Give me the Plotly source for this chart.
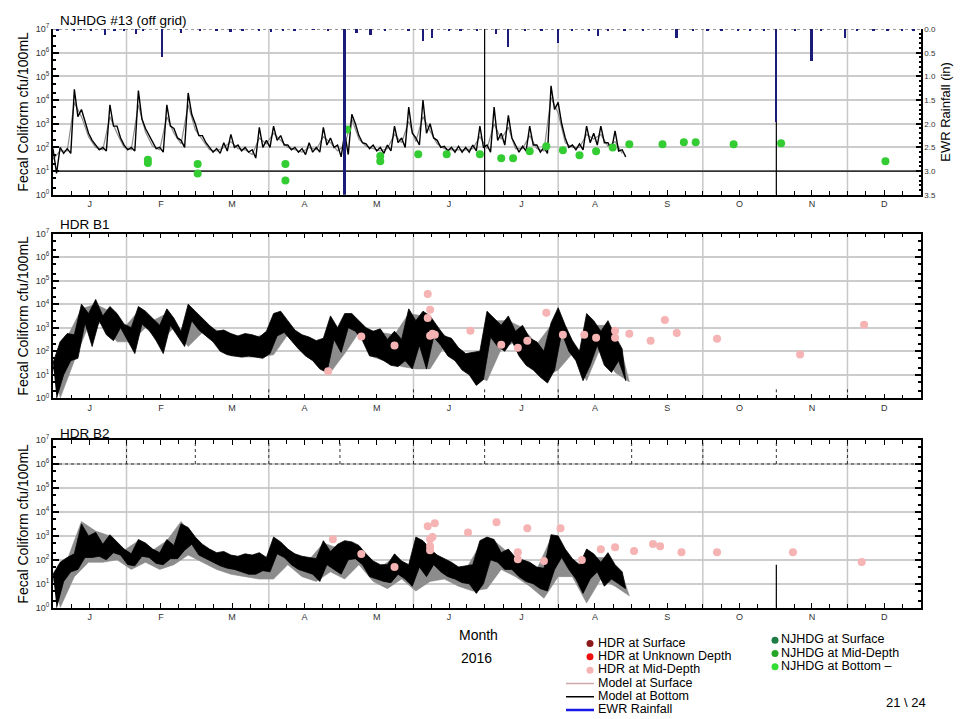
import pandas as pd
import plotly.graph_objects as go

START = pd.Timestamp("2016-01-01")
END = pd.Timestamp("2017-01-01")
FONT = "Liberation Sans, Arial, sans-serif"

month_letters = ["J", "F", "M", "A", "M", "J", "J", "A", "S", "O", "N", "D"]
decades = [0, 1, 2, 3, 4, 5, 6, 7]
panel_titles = ["NJHDG #13 (off grid)", "HDR B1", "HDR B2"]
y_title = "Fecal Coliform cfu/100mL"
rain_title = "EWR Rainfall (in)"
month_label = "Month"
year_label = "2016"
page_label = "21 \\ 24"

# model output, log10(cfu/100mL): high and low inside each 3 day window (Jan 1 - Aug 28)
model_step = 3
p1_bottom_hi = [1.95, 2.0, 1.95, 4.45, 3.6, 2.6, 2.1, 2.0, 3.8, 2.9,
                2.1, 2.0, 4.4, 2.8, 2.2, 2.0, 3.8, 2.8, 2.3, 4.3,
                3.0, 2.5, 2.0, 1.95, 2.2, 2.55, 2.1, 2.0, 1.9, 2.85,
                2.3, 2.9, 2.5, 2.1, 2.0, 1.95, 2.2, 2.0, 2.85, 2.4,
                2.1, 2.6, 3.4, 2.5, 2.15, 2.1, 2.0, 2.1, 2.9, 2.4,
                3.7, 2.4, 4.0, 3.0, 2.3, 2.05, 2.0, 2.05, 2.0, 2.1,
                2.9, 2.1, 3.7, 2.6, 3.35, 2.1, 2.05, 2.9, 2.1, 2.0,
                4.6, 3.9, 2.4, 2.1, 2.15, 2.9, 2.6, 2.9, 2.2, 2.7,
                1.9]
p1_bottom_lo = [0.9, 1.75, 1.75, 3.3, 3.1, 2.3, 1.9, 1.85, 2.9, 2.4,
                1.9, 1.85, 3.2, 2.5, 1.95, 1.8, 2.9, 2.4, 2.0, 3.4,
                2.5, 2.2, 1.8, 1.75, 1.85, 2.0, 1.85, 1.8, 1.55, 2.0,
                2.0, 2.3, 2.1, 1.9, 1.8, 1.7, 1.8, 1.8, 2.1, 2.0,
                1.6, 1.7, 3.0, 2.2, 1.95, 1.85, 1.75, 1.85, 2.2, 2.0,
                2.6, 2.1, 2.6, 2.4, 2.0, 1.85, 1.8, 1.8, 1.8, 1.85,
                2.0, 1.8, 2.3, 2.1, 2.4, 1.8, 1.85, 2.1, 1.8, 1.75,
                3.6, 3.0, 2.0, 1.9, 1.9, 2.2, 2.1, 2.2, 1.9, 1.85,
                1.6]
p1_surface = [1.5, 1.85, 1.85, 3.9, 3.3, 2.45, 2.0, 1.9, 3.3, 2.6,
              2.0, 1.9, 3.8, 2.65, 2.05, 1.9, 3.3, 2.6, 2.15, 3.8,
              2.75, 2.35, 1.9, 1.85, 2.0, 2.25, 1.95, 1.9, 1.7, 2.4,
              2.15, 2.6, 2.3, 2.0, 1.9, 1.8, 2.0, 1.9, 2.45, 2.2,
              1.85, 2.1, 3.2, 2.35, 2.05, 1.95, 1.85, 1.95, 2.55, 2.2,
              3.1, 2.25, 3.3, 2.7, 2.15, 1.95, 1.9, 1.9, 1.9, 1.95,
              2.45, 1.95, 3.0, 2.35, 2.85, 1.95, 1.95, 2.5, 1.95, 1.85,
              4.1, 3.45, 2.2, 2.0, 2.0, 2.55, 2.35, 2.55, 2.05, 2.25,
              1.75]
p2_bottom_hi = [1.5, 2.4, 2.75, 2.7, 4.0, 3.6, 4.2, 3.5, 3.9, 3.6,
                3.15, 3.0, 3.9, 3.7, 3.4, 3.1, 3.8, 3.4, 2.85, 4.0,
                3.7, 3.4, 3.1, 2.85, 2.9, 2.75, 2.65, 2.75, 2.7, 2.6,
                2.85, 3.6, 3.7, 3.3, 2.9, 2.7, 2.6, 2.45, 2.55, 3.5,
                3.0, 3.6, 3.6, 3.3, 3.0, 2.85, 2.95, 2.5, 2.85, 2.5,
                3.8, 3.3, 3.7, 3.5, 3.1, 2.65, 2.55, 2.15, 1.9, 1.95,
                2.0, 3.7, 3.4, 3.1, 3.5, 2.85, 3.1, 2.55, 2.4, 2.0,
                3.2, 3.85, 3.1, 2.45, 2.0, 3.6, 3.3, 2.85, 3.3, 2.65,
                2.1]
p2_bottom_lo = [0.0, 1.0, 1.6, 1.7, 3.2, 2.2, 3.3, 2.7, 2.45, 3.0,
                2.45, 1.9, 3.15, 2.9, 2.45, 1.9, 3.1, 2.65, 2.2, 3.3,
                2.9, 2.65, 2.4, 2.0, 1.85, 1.8, 1.75, 1.8, 1.75, 1.7,
                1.9, 2.65, 2.8, 2.45, 2.1, 1.8, 1.6, 1.25, 1.1, 2.5,
                1.95, 3.0, 2.85, 2.45, 1.8, 1.75, 1.6, 1.4, 1.35, 1.6,
                1.25, 2.25, 1.25, 2.6, 2.25, 1.8, 1.6, 1.2, 1.0, 0.55,
                0.8, 2.6, 2.2, 2.0, 2.45, 1.8, 1.4, 1.2, 0.9, 0.65,
                1.2, 2.8, 2.0, 1.6, 0.75, 1.4, 2.25, 1.4, 1.1, 1.6,
                0.75]
p3_bottom_hi = [1.4, 1.9, 2.1, 2.25, 3.5, 3.0, 3.15, 2.65, 3.05, 2.75,
                2.45, 2.25, 2.85, 2.7, 2.45, 2.3, 2.85, 2.6, 3.5, 3.35,
                2.95, 2.65, 2.45, 2.3, 2.35, 2.2, 2.15, 2.25, 2.2, 2.3,
                2.1, 2.95, 2.75, 2.45, 2.25, 2.15, 2.1, 2.05, 2.8, 2.35,
                2.65, 2.8, 2.75, 2.6, 2.25, 1.95, 1.8, 1.8, 2.25, 1.95,
                1.8, 2.95, 2.8, 2.45, 2.2, 2.05, 1.9, 1.7, 1.75, 1.8,
                2.8, 2.95, 2.85, 2.3, 2.45, 2.1, 2.0, 1.9, 1.7, 1.65,
                3.05, 3.0, 2.45, 2.05, 1.8, 2.45, 2.25, 1.9, 2.3, 1.8,
                1.5]
p3_bottom_lo = [0.0, 1.1, 1.5, 1.6, 2.1, 2.1, 2.15, 2.0, 2.3, 2.2,
                1.8, 1.75, 2.15, 2.1, 1.85, 1.8, 2.05, 2.05, 2.4, 2.65,
                2.2, 2.05, 1.9, 1.75, 1.65, 1.6, 1.5, 1.4, 1.4, 1.55,
                1.5, 2.25, 2.1, 1.8, 1.6, 1.5, 1.4, 1.1, 1.8, 1.6,
                1.4, 2.0, 2.05, 1.8, 1.3, 1.2, 1.1, 1.05, 1.4, 1.2,
                0.9, 1.7, 1.3, 1.8, 1.5, 1.3, 1.2, 1.05, 1.0, 0.6,
                1.0, 2.0, 1.9, 1.6, 1.6, 1.3, 1.1, 1.0, 0.8, 0.7,
                1.6, 2.1, 1.6, 1.2, 0.6, 1.2, 1.5, 0.9, 1.2, 1.0,
                0.8]

# model at surface, log10(cfu/100mL), high and low every 6 days
surface_step = 6
p2_surface_hi = [1.3, 2.6, 3.8, 4.0, 3.7, 3.0, 3.7, 3.3, 3.6, 2.7,
                 3.5, 3.0, 2.8, 2.5, 2.6, 2.7, 3.5, 2.8, 2.5, 2.4,
                 2.9, 3.4, 2.9, 2.8, 2.7, 3.6, 3.5, 3.0, 2.4, 1.8,
                 1.9, 3.3, 3.3, 3.0, 2.3, 3.1, 3.0, 1.9, 3.1, 3.1,
                 1.9]
p2_surface_lo = [0.0, 1.6, 3.1, 3.2, 2.4, 2.4, 3.0, 2.4, 3.0, 2.2,
                 2.8, 2.3, 1.8, 1.75, 1.75, 1.85, 2.7, 2.0, 1.55, 1.1,
                 1.9, 2.8, 1.75, 1.55, 1.35, 1.25, 1.25, 2.2, 1.55, 1.0,
                 0.75, 2.1, 2.4, 1.4, 0.9, 1.2, 1.9, 0.75, 2.2, 1.1,
                 0.7]
p3_surface_hi = [1.2, 2.0, 3.6, 3.2, 3.0, 2.4, 2.8, 2.4, 2.8, 3.6,
                 2.9, 2.3, 2.2, 2.0, 2.1, 2.0, 2.7, 2.2, 2.0, 2.7,
                 2.5, 2.7, 2.1, 1.7, 2.1, 1.7, 2.7, 2.1, 1.8, 1.6,
                 2.6, 2.8, 2.3, 1.9, 1.6, 2.9, 2.3, 1.7, 2.1, 2.1,
                 1.4]
p3_surface_lo = [0.0, 1.3, 1.9, 1.9, 2.0, 1.6, 1.9, 1.6, 1.8, 2.2,
                 1.9, 1.6, 1.4, 1.3, 1.2, 1.2, 1.8, 1.3, 1.1, 1.5,
                 1.2, 1.8, 1.1, 0.8, 1.2, 0.7, 1.1, 1.2, 0.9, 0.7,
                 0.8, 1.6, 1.3, 0.9, 0.4, 1.3, 1.3, 0.2, 1.2, 0.9,
                 0.5]

# samples, cfu/100mL
njhdg_dates = ["2016-02-10", "2016-02-10", "2016-03-02", "2016-03-02", "2016-04-08",
               "2016-04-08", "2016-05-04", "2016-05-18", "2016-05-18", "2016-06-03",
               "2016-06-15", "2016-06-29", "2016-07-08", "2016-07-13", "2016-07-20",
               "2016-07-27", "2016-08-03", "2016-08-10", "2016-08-17", "2016-08-24",
               "2016-08-31", "2016-09-14", "2016-09-23", "2016-09-28", "2016-10-14",
               "2016-11-03", "2016-12-17"]
njhdg_bottom = [30, 22, 20, 8, 20, 4, 575, 43, 26, 52, 52, 52, 35, 35, 69,
                112, 76, 47, 69, 100, 135, 135, 166, 166, 135, 151, 26]

hdr_b1_dates = ["2016-04-26", "2016-05-10", "2016-05-24", "2016-06-07", "2016-06-08",
                "2016-06-07", "2016-06-09", "2016-06-08", "2016-06-10", "2016-06-25",
                "2016-07-08", "2016-07-15", "2016-07-19", "2016-07-27", "2016-08-03",
                "2016-08-12", "2016-08-17", "2016-08-25", "2016-08-25", "2016-08-31",
                "2016-09-09", "2016-09-15", "2016-09-20", "2016-10-07", "2016-11-11",
                "2016-12-08"]
hdr_b1_mid = [14, 420, 175, 27000, 5750, 2600, 550, 460, 500, 740, 190, 140, 280,
              4300, 500, 500, 370, 740, 370, 550, 280, 2140, 600, 340, 72, 1320]

hdr_b2_dates = ["2016-04-28", "2016-05-10", "2016-05-24", "2016-06-07", "2016-06-10",
                "2016-06-08", "2016-06-09", "2016-06-08", "2016-06-08", "2016-06-24",
                "2016-07-06", "2016-07-15", "2016-07-15", "2016-07-19", "2016-07-26",
                "2016-08-02", "2016-08-11", "2016-08-19", "2016-08-25", "2016-09-02",
                "2016-09-10", "2016-09-13", "2016-09-22", "2016-10-07", "2016-11-08",
                "2016-12-07"]
hdr_b2_mid = [725, 175, 50, 2500, 3400, 725, 890, 370, 250, 1400, 3700, 210, 107,
              2100, 89, 2100, 98, 280, 340, 235, 460, 370, 210, 210, 210, 81]

# daily rainfall, inches
rain_dates = ["2016-01-03", "2016-01-10", "2016-01-13", "2016-01-17", "2016-01-23",
              "2016-01-27", "2016-01-31", "2016-02-05", "2016-02-08", "2016-02-16",
              "2016-02-24", "2016-03-03", "2016-03-10", "2016-03-16", "2016-03-21",
              "2016-03-28", "2016-04-02", "2016-04-07", "2016-04-12", "2016-04-20",
              "2016-04-26", "2016-05-03", "2016-05-08", "2016-05-14", "2016-05-20",
              "2016-05-30", "2016-06-05", "2016-06-09", "2016-06-16", "2016-06-21",
              "2016-06-28", "2016-07-06", "2016-07-11", "2016-07-18", "2016-07-25",
              "2016-08-01", "2016-08-07", "2016-08-14", "2016-08-18", "2016-08-22",
              "2016-08-29", "2016-09-06", "2016-09-13", "2016-09-20", "2016-09-27",
              "2016-10-03", "2016-10-09", "2016-10-16", "2016-10-21", "2016-10-27",
              "2016-11-01", "2016-11-09", "2016-11-16", "2016-11-20", "2016-11-30",
              "2016-12-05", "2016-12-12", "2016-12-18", "2016-12-24", "2016-12-29"]
rain_in = [0.03, 0.05, 0.02, 0.04, 0.12, 0.03, 0.05, 0.10, 0.04, 0.59,
           0.08, 0.04, 0.03, 0.06, 0.03, 0.04, 0.06, 0.03, 0.04, 0.02,
           0.05, 3.5, 0.08, 0.12, 0.03, 0.04, 0.25, 0.19, 0.03, 0.05,
           0.04, 0.10, 0.38, 0.03, 0.05, 0.29, 0.03, 0.04, 0.15, 0.03,
           0.05, 0.03, 0.02, 0.19, 0.04, 0.03, 0.05, 0.03, 0.04, 0.03,
           1.97, 0.03, 0.67, 0.04, 0.19, 0.04, 0.03, 0.05, 0.03, 0.04]

detection_limit = 10
p1_full_lines = ["2016-07-01", "2016-11-01"]
p2_short_lines = ["2016-04-01", "2016-06-01", "2016-07-01", "2016-08-01", "2016-11-01", "2016-12-01"]

legend_names_1 = ["HDR at Surface", "HDR at Unknown Depth", "HDR at Mid-Depth",
                  "Model at Surface", "Model at Bottom", "EWR Rainfall"]
legend_colors_1 = ["#8b1a1a", "#ee1111", "#f6b3b3", "#d0a8a8", "#000000", "#1a1ae6"]
legend_kinds_1 = ["marker", "marker", "marker", "line", "line", "line"]
legend_names_2 = ["NJHDG at Surface", "NJHDG at Mid-Depth", "NJHDG at Bottom \u2013"]
legend_colors_2 = ["#1e7b45", "#26a626", "#33dd33"]

GRAY = "#8c8c8c"
GRID = "#c8c8c8"
NAVY = "#1b1b7a"
PINK = "#f6b3b3"
GREEN = "#33cc33"


def day(n):
    return START + pd.Timedelta(days=n)


def zigzag(hi, lo, step):
    xs, ys = [], []
    for i in range(len(hi)):
        xs += [day(step * i), day(step * i + step / 2)]
        ys += [10 ** hi[i], 10 ** lo[i]]
    return xs, ys


def band(hi, lo, step):
    top = [day(step * i) for i in range(len(hi))]
    bot = [day(step * i + step / 2) for i in range(len(lo))]
    return top + bot[::-1], [10 ** v for v in hi] + [10 ** v for v in lo[::-1]]


def verticals(dates, y0, y1):
    xs, ys = [], []
    for d in dates:
        xs += [d, d, None]
        ys += [y0, y1, None]
    return xs, ys


grid_dates = list(pd.date_range("2016-02-01", "2016-12-01", freq="2MS"))
gx, gy = verticals(grid_dates, 1, 1e7)

fig = go.Figure()

# ---- panel 1: NJHDG #13
fig.add_trace(go.Scatter(x=gx, y=gy, mode="lines", line=dict(color=GRID, width=1.5),
                         xaxis="x", yaxis="y"))
fig.add_trace(go.Scatter(x=[day(model_step * i) for i in range(len(p1_surface))],
                         y=[10 ** v for v in p1_surface], mode="lines",
                         line=dict(color=GRAY, width=1.2), xaxis="x", yaxis="y"))
zx, zy = zigzag(p1_bottom_hi, p1_bottom_lo, model_step)
fig.add_trace(go.Scatter(x=zx, y=zy, mode="lines", line=dict(color="black", width=1.4),
                         xaxis="x", yaxis="y"))
fig.add_trace(go.Scatter(x=[START, END], y=[detection_limit, detection_limit], mode="lines",
                         line=dict(color="black", width=1.2), xaxis="x", yaxis="y"))
vx, vy = verticals(p1_full_lines, 1, 1e7)
fig.add_trace(go.Scatter(x=vx, y=vy, mode="lines", line=dict(color="black", width=1.2),
                         xaxis="x", yaxis="y"))
fig.add_trace(go.Scatter(x=[START, END], y=[1e7, 1e7], mode="lines",
                         line=dict(color="#777777", width=1.5, dash="dot"), xaxis="x", yaxis="y"))
fig.add_trace(go.Scatter(x=njhdg_dates, y=njhdg_bottom, mode="markers",
                         marker=dict(color=GREEN, size=8), xaxis="x", yaxis="y"))
fig.add_trace(go.Bar(x=rain_dates, y=rain_in, width=0.8 * 86400000, marker_color=NAVY,
                     marker_line_width=0, xaxis="x", yaxis="y4"))

# ---- panel 2: HDR B1
fig.add_trace(go.Scatter(x=gx, y=gy, mode="lines", line=dict(color=GRID, width=1.5),
                         xaxis="x2", yaxis="y2"))
bx, by = band(p2_surface_hi, p2_surface_lo, surface_step)
fig.add_trace(go.Scatter(x=bx, y=by, mode="lines", fill="toself", fillcolor=GRAY,
                         line=dict(color=GRAY, width=0.6), xaxis="x2", yaxis="y2"))
bx, by = band(p2_bottom_hi, p2_bottom_lo, model_step)
fig.add_trace(go.Scatter(x=bx, y=by, mode="lines", fill="toself", fillcolor="black",
                         line=dict(color="black", width=0.8), xaxis="x2", yaxis="y2"))
vx, vy = verticals(p2_short_lines, 1, 2.8)
fig.add_trace(go.Scatter(x=vx, y=vy, mode="lines", line=dict(color="#333333", width=1, dash="dot"),
                         xaxis="x2", yaxis="y2"))
fig.add_trace(go.Scatter(x=hdr_b1_dates, y=hdr_b1_mid, mode="markers",
                         marker=dict(color=PINK, size=8), xaxis="x2", yaxis="y2"))

# ---- panel 3: HDR B2
fig.add_trace(go.Scatter(x=gx, y=gy, mode="lines", line=dict(color=GRID, width=1.5),
                         xaxis="x3", yaxis="y3"))
bx, by = band(p3_surface_hi, p3_surface_lo, surface_step)
fig.add_trace(go.Scatter(x=bx, y=by, mode="lines", fill="toself", fillcolor=GRAY,
                         line=dict(color=GRAY, width=0.6), xaxis="x3", yaxis="y3"))
bx, by = band(p3_bottom_hi, p3_bottom_lo, model_step)
fig.add_trace(go.Scatter(x=bx, y=by, mode="lines", fill="toself", fillcolor="black",
                         line=dict(color="black", width=0.8), xaxis="x3", yaxis="y3"))
month_starts = list(pd.date_range("2016-02-01", "2016-12-01", freq="MS"))
vx, vy = verticals(month_starts, 1e6, 1e7)
fig.add_trace(go.Scatter(x=vx + [START, END], y=vy + [1e6, 1e6], mode="lines",
                         line=dict(color="#333333", width=1, dash="dot"), xaxis="x3", yaxis="y3"))
vx, vy = verticals(["2016-11-01"], 1, 63)
fig.add_trace(go.Scatter(x=vx, y=vy, mode="lines", line=dict(color="black", width=1.2),
                         xaxis="x3", yaxis="y3"))
fig.add_trace(go.Scatter(x=hdr_b2_dates, y=hdr_b2_mid, mode="markers",
                         marker=dict(color=PINK, size=8), xaxis="x3", yaxis="y3"))

# ---- legend block (own hidden axes)
rows = list(range(len(legend_names_1)))
for r, kind, col in zip(rows, legend_kinds_1, legend_colors_1):
    if kind == "marker":
        fig.add_trace(go.Scatter(x=[32], y=[r], mode="markers", marker=dict(color=col, size=7),
                                 xaxis="x5", yaxis="y5"))
    else:
        fig.add_trace(go.Scatter(x=[8, 36], y=[r, r], mode="lines",
                                 line=dict(color=col, width=2.5 if r == 5 else 1.4),
                                 xaxis="x5", yaxis="y5"))
fig.add_trace(go.Scatter(x=[40] * len(rows), y=rows, mode="text", text=legend_names_1,
                         textposition="middle right", textfont=dict(size=12.5, color="black"),
                         xaxis="x5", yaxis="y5"))
rows2 = [r - 0.25 for r in range(len(legend_names_2))]
fig.add_trace(go.Scatter(x=[217] * len(rows2), y=rows2, mode="markers",
                         marker=dict(color=legend_colors_2, size=7), xaxis="x5", yaxis="y5"))
fig.add_trace(go.Scatter(x=[223] * len(rows2), y=rows2, mode="text", text=legend_names_2,
                         textposition="middle right", textfont=dict(size=12.5, color="black"),
                         xaxis="x5", yaxis="y5"))

fig.update_traces(showlegend=False, hoverinfo="skip")

# ---- axes
month_starts_all = list(pd.date_range("2016-01-01", "2017-01-01", freq="MS"))
mid_months = [a + (b - a) / 2 for a, b in zip(month_starts_all[:-1], month_starts_all[1:])]
quarter_ticks = [a + (b - a) * q / 4 for a, b in zip(month_starts_all[:-1], month_starts_all[1:])
                 for q in range(4)]


def xstyle(anchor, mirror):
    return dict(type="date", range=[START, END], anchor=anchor, tickmode="array",
                tickvals=mid_months, ticktext=month_letters, ticks="inside", ticklen=5,
                tickcolor="black", showline=True, linecolor="black", linewidth=1.5,
                mirror=mirror, showgrid=False, zeroline=False,
                tickfont=dict(size=9, color="#333333"),
                minor=dict(tickmode="array", tickvals=quarter_ticks, ticks="inside",
                           ticklen=4, tickcolor="black", showgrid=False))


def ystyle(domain, anchor, mirror):
    return dict(type="log", range=[0, 7], tickmode="array",
                tickvals=[10 ** k for k in decades],
                ticktext=["10<sup>%d</sup>" % k for k in decades], domain=domain,
                anchor=anchor, ticks="inside", ticklen=6, tickwidth=1.5, tickcolor="black",
                showline=True, linecolor="black", linewidth=2, mirror=mirror,
                showgrid=True, gridcolor="#cccccc", gridwidth=1.5, zeroline=False,
                tickfont=dict(size=9, color="#333333"),
                minor=dict(ticks="inside", ticklen=3, tickcolor="black", showgrid=False),
                title=dict(text=y_title, font=dict(size=14, color="black"), standoff=4))


def ppx_x(x):
    return (x - 45) / 868


def ppx_y(y):
    return (715 - y) / 694


fig.update_layout(
    width=969, height=719,
    margin=dict(l=45, r=56, t=21, b=4),
    paper_bgcolor="white", plot_bgcolor="white",
    font=dict(family=FONT, color="black"),
    showlegend=False,
    bargap=0,
    xaxis=xstyle("y", False),
    xaxis2=xstyle("y2", "ticks"),
    xaxis3=xstyle("y3", "ticks"),
    yaxis=ystyle([ppx_y(188), 1.0], "x", False),
    yaxis2=ystyle([ppx_y(393), ppx_y(227)], "x2", "ticks"),
    yaxis3=ystyle([ppx_y(604), ppx_y(435)], "x3", "ticks"),
    yaxis4=dict(overlaying="y", anchor="x", side="right", range=[3.5, 0], dtick=0.5,
                tickformat=".1f", ticks="inside", ticklen=5, tickwidth=1.5, tickcolor="black",
                showline=True, linecolor="black", linewidth=1.5, showgrid=False, zeroline=False,
                tickfont=dict(size=8, color="#333333"),
                minor=dict(dtick=0.1, ticks="inside", ticklen=2, tickcolor="black"),
                title=dict(text=rain_title, font=dict(size=13, color="black"), standoff=6)),
    xaxis5=dict(domain=[ppx_x(550), ppx_x(910)], range=[0, 360], visible=False,
                anchor="y5", fixedrange=True),
    yaxis5=dict(domain=[0, ppx_y(630)], range=[5.6, -0.75], visible=False,
                anchor="x5", fixedrange=True),
)

for title, ypx in zip(panel_titles, [12, 218, 428]):
    fig.add_annotation(text=title, xref="paper", yref="paper", x=ppx_x(50), y=ppx_y(ypx),
                       xanchor="left", yanchor="middle", showarrow=False,
                       font=dict(size=13.5, color="black"))
fig.add_annotation(text=month_label, xref="paper", yref="paper", x=ppx_x(470), y=ppx_y(641),
                   showarrow=False, font=dict(size=14, color="black"))
fig.add_annotation(text=year_label, xref="paper", yref="paper", x=ppx_x(468), y=ppx_y(665),
                   showarrow=False, font=dict(size=14, color="black"))
fig.add_annotation(text=page_label, xref="paper", yref="paper", x=ppx_x(920), y=ppx_y(709),
                   showarrow=False, font=dict(size=13, color="black"))

fig.write_html("out.html")
